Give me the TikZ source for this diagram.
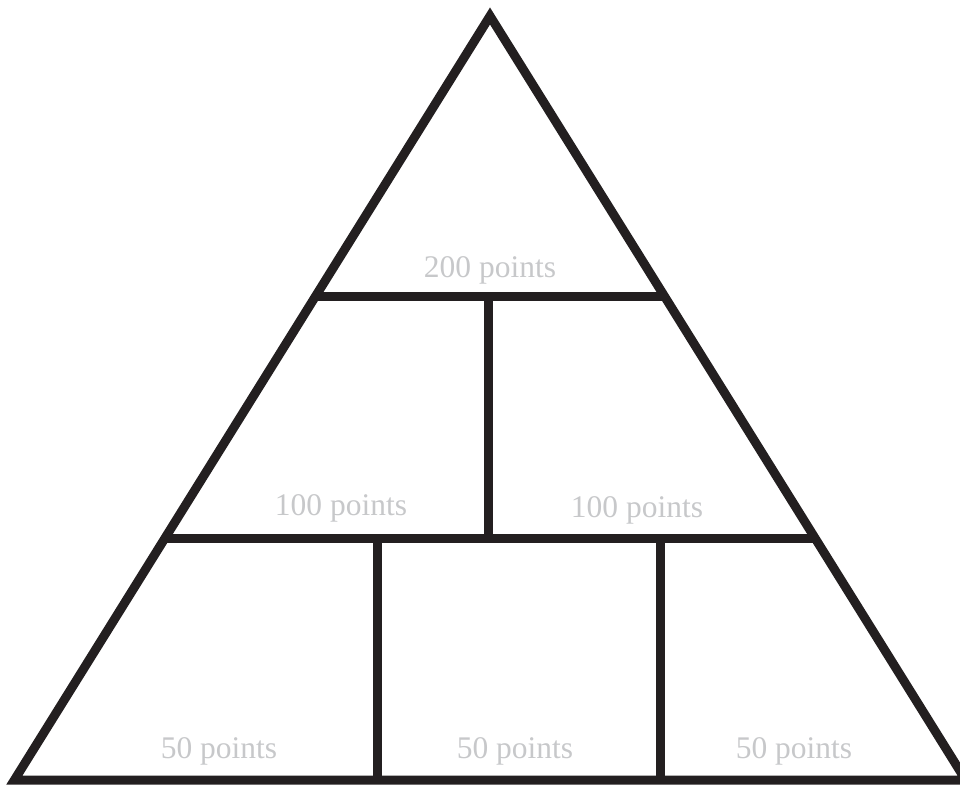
\documentclass[tikz,border=0pt]{standalone}
\usepackage{fontspec}
\setmainfont{Liberation Serif}
\definecolor{ink}{HTML}{231F20}
\definecolor{lbl}{HTML}{C7C8CA}
\begin{document}
\begin{tikzpicture}[x=1pt,y=-1pt,
  wall/.style={draw=ink,line width=9pt,line join=miter},
  pts/.style={text=lbl,font=\fontsize{31.5}{36}\selectfont,anchor=base,inner sep=0pt}]
\useasboundingbox (0,0) rectangle (960,784);
\coordinate (apex) at (490,16);
\coordinate (bl) at (14.4,780);
\coordinate (br) at (965.6,780);
% outer triangle
\draw[wall] (apex) -- (br) -- (bl) -- cycle;
% horizontal bars
\draw[wall] (315.7,296) -- (664.3,296);
\draw[wall] (165,538.5) -- (815,538.5);
% vertical walls
\draw[wall] (488,296) -- (488,538.5);
\draw[wall] (377,538.5) -- (377,780);
\draw[wall] (660,538.5) -- (660,780);
% labels
\node[pts] (t200) at (490,277) {200 points};
\node[pts] (t100a) at (341,515) {100 points};
\node[pts] (t100b) at (637,517) {100 points};
\node[pts] (t50a) at (219,758) {50 points};
\node[pts] (t50b) at (515,758) {50 points};
\node[pts] (t50c) at (794,758) {50 points};
\end{tikzpicture}
\end{document}
